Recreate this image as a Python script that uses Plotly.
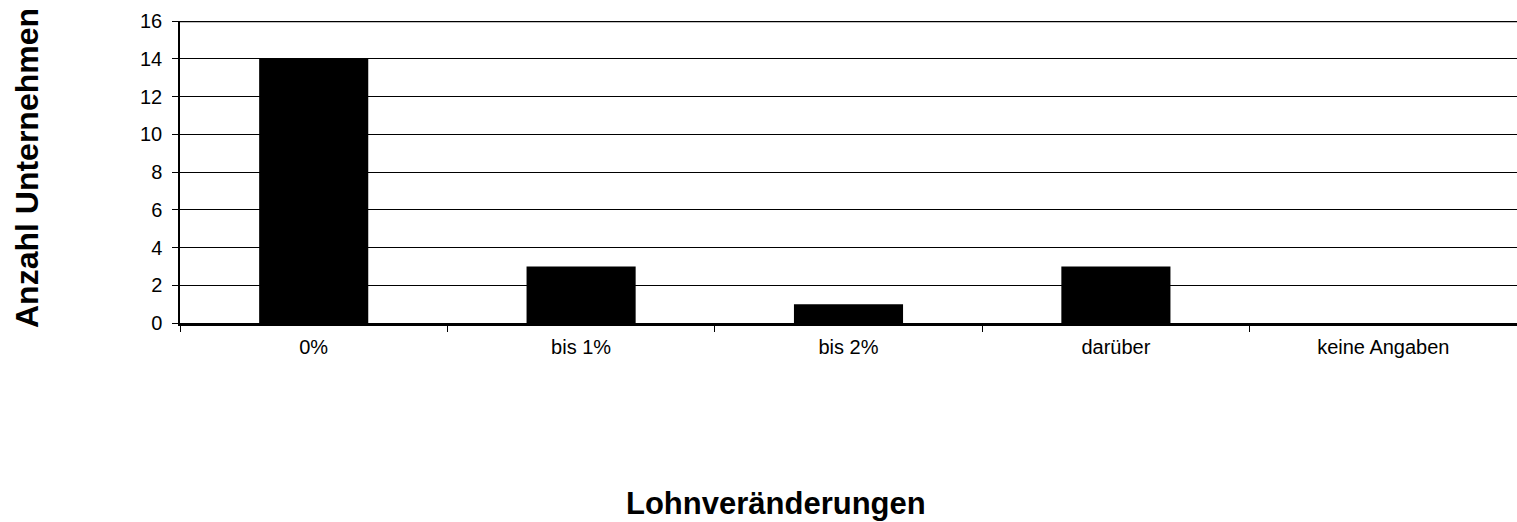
import plotly.graph_objects as go

categories = ["0%", "bis 1%", "bis 2%", "darüber", "keine Angaben"]
values = [14, 3, 1, 3, 0]
y_ticks = [0, 2, 4, 6, 8, 10, 12, 14, 16]
x_title = "Lohnveränderungen"
y_title = "Anzahl Unternehmen"

FONT = "Liberation Sans, Arial, sans-serif"

fig = go.Figure()
fig.add_trace(go.Bar(
    x=categories, y=values,
    marker=dict(color="black", line=dict(color="black", width=0)),
    hoverinfo="x+y",
))

W, H = 1517, 522
L, R, T, B = 180, 0, 21, 199
pw, ph = W - L - R, H - T - B

fig.update_layout(
    width=W, height=H,
    margin=dict(l=L, r=R, t=T, b=B, pad=0),
    paper_bgcolor="white", plot_bgcolor="white",
    bargap=0.592,
    showlegend=False,
    font=dict(family=FONT, color="black", size=20),
)
fig.update_xaxes(
    type="category",
    showline=True, linecolor="black", linewidth=2.5,
    ticks="outside", tickson="boundaries", ticklen=6, tickcolor="black", tickwidth=1,
    tickfont=dict(family=FONT, size=20, color="black"),
    showgrid=False, zeroline=False,
    ticklabelstandoff=4,
)
fig.update_yaxes(
    range=[0, 16], tickvals=y_ticks,
    showline=True, linecolor="black", linewidth=1.5,
    ticks="outside", ticklen=6, tickcolor="black", tickwidth=1,
    tickfont=dict(family=FONT, size=20, color="black"),
    showgrid=True, gridcolor="black", gridwidth=1,
    zeroline=False,
    ticklabelstandoff=6,
)
# thick top border
fig.add_shape(type="line", xref="paper", yref="y", x0=0, x1=1, y0=16, y1=16,
              line=dict(color="black", width=2.5))

fig.add_annotation(
    text=f"<b>{x_title}</b>", showarrow=False,
    xref="paper", yref="paper",
    x=(776 - L) / pw, y=(H - B - 503) / ph,
    xanchor="center", yanchor="middle",
    font=dict(family=FONT, size=31, color="black"),
)
fig.add_annotation(
    text=f"<b>{y_title}</b>", showarrow=False, textangle=-90,
    xref="paper", yref="paper",
    x=(27 - L) / pw, y=(H - B - 168) / ph,
    xanchor="center", yanchor="middle",
    font=dict(family=FONT, size=32, color="black"),
)

fig.write_html(
    "out.html",
    config={"displayModeBar": False},
    post_script="document.body.style.margin='0';document.body.style.overflow='hidden';",
)
